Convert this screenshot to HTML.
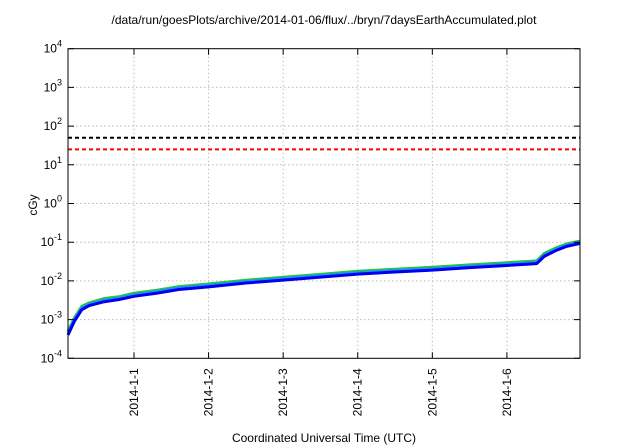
<!DOCTYPE html>
<html><head><meta charset="utf-8"><style>
body{margin:0;background:#fff}
svg{display:block;font-family:"Liberation Sans",sans-serif}
</style></head><body>
<svg id="chart" width="640" height="448" viewBox="0 0 640 448">
<rect width="640" height="448" fill="#fff"/>
<text x="324" y="24" font-size="12" text-anchor="middle">/data/run/goesPlots/archive/2014-01-06/flux/../bryn/7daysEarthAccumulated.plot</text>
<g id="grid"></g>
<g id="series"></g>
<rect x="68" y="48.7" width="512" height="309.6" fill="none" stroke="#000" stroke-width="1"/>
<g id="axes"></g>
<text transform="translate(37,205) rotate(-90)" font-size="12" text-anchor="middle">cGy</text>
<text x="324" y="442" font-size="12" text-anchor="middle">Coordinated Universal Time (UTC)</text>
</svg>
<script>
const times=[-0.885,-0.8,-0.7,-0.6,-0.4,-0.2,0,0.3,0.6,1,1.5,2,2.5,3,3.5,4,4.5,5,5.4,5.5,5.65,5.8,5.98];
const blueVals=[4e-4,9e-4,1.8e-3,2.3e-3,2.9e-3,3.3e-3,4e-3,4.8e-3,6e-3,7e-3,8.8e-3,1.05e-2,1.25e-2,1.5e-2,1.7e-2,1.9e-2,2.2e-2,2.5e-2,2.8e-2,4.3e-2,6e-2,7.8e-2,9.3e-2];
const cyanVals=[4.5e-4,1.0e-3,2.0e-3,2.5e-3,3.2e-3,3.6e-3,4.4e-3,5.3e-3,6.6e-3,7.7e-3,9.6e-3,1.15e-2,1.37e-2,1.64e-2,1.86e-2,2.08e-2,2.4e-2,2.73e-2,3.05e-2,4.7e-2,6.5e-2,8.4e-2,1.0e-1];
const greenVals=[5e-4,1.1e-3,2.2e-3,2.7e-3,3.5e-3,3.9e-3,4.8e-3,5.7e-3,7.1e-3,8.3e-3,1.04e-2,1.24e-2,1.48e-2,1.77e-2,2.0e-2,2.25e-2,2.6e-2,2.95e-2,3.3e-2,5.1e-2,7.0e-2,9.0e-2,1.07e-1];
const threshHigh=[50];
const threshLow=[25];
const xTicks=[0,1,2,3,4,5];
const xTickLabels=["2014-1-1","2014-1-2","2014-1-3","2014-1-4","2014-1-5","2014-1-6"];
const yExps=[-4,-3,-2,-1,0,1,2,3,4];

const L=68,R=580,T=48.7,B=358.3,x0=-0.885,x1=5.98;
const X=t=>L+(t-x0)/(x1-x0)*(R-L);
const Y=v=>B-(Math.log10(v)+4)/8*(B-T);
const NS="http://www.w3.org/2000/svg";
function mk(tag,attrs,parent){const e=document.createElementNS(NS,tag);for(const k in attrs)e.setAttribute(k,attrs[k]);parent.appendChild(e);return e;}
const grid=document.getElementById('grid'),axes=document.getElementById('axes'),ser=document.getElementById('series');
yExps.forEach(e=>{
  const y=Y(Math.pow(10,e));
  if(e>-4&&e<4){const g=mk('line',{x1:L,x2:R,y1:y,y2:y,stroke:'#bbb','stroke-dasharray':'1.5,2.5','stroke-width':1},grid);
  
  }
  const tk=mk('path',{d:`M${L},${y}h6M${R},${y}h-6`,stroke:'#000'},axes);
  
  
  const t=mk('text',{x:L-6,y:y+4,'font-size':12,'text-anchor':'end'},axes);
  
  
  t.innerHTML=`10<tspan dy="-6" font-size="9">${e}</tspan>`;
});
xTicks.forEach((d,i)=>{
  const x=X(d);
  const g=mk('line',{x1:x,x2:x,y1:T,y2:B,stroke:'#bbb','stroke-dasharray':'1.5,2.5'},grid);
  
  
  const tk=mk('path',{d:`M${x},${B}v-6M${x},${T}v6`,stroke:'#000'},axes);
  
  
  const t=mk('text',{transform:`translate(${x+4},${B+10}) rotate(-90)`,'font-size':12,'text-anchor':'end'},axes);
  
  
  t.textContent=xTickLabels[i];
});
function hline(v,col,name){const l=mk('line',{x1:L,x2:R,y1:Y(v),y2:Y(v),stroke:col,'stroke-width':2,'stroke-dasharray':'4,3'},ser);
  
  }
hline(threshHigh[0],'#000','threshold-high-line');
hline(threshLow[0],'#f00','threshold-low-line');
function line(vals,col,w,name){const p=mk('polyline',{points:times.map((t,i)=>X(t)+','+Y(vals[i])).join(' '),fill:'none',stroke:col,'stroke-width':w,'stroke-linejoin':'round'},ser);
  
  }
line(greenVals,'#22cc22',3,'series-green');
line(cyanVals,'#1e90ff',3,'series-cyan');
line(blueVals,'#0000ee',3,'series-blue');
</script>
</body></html>
